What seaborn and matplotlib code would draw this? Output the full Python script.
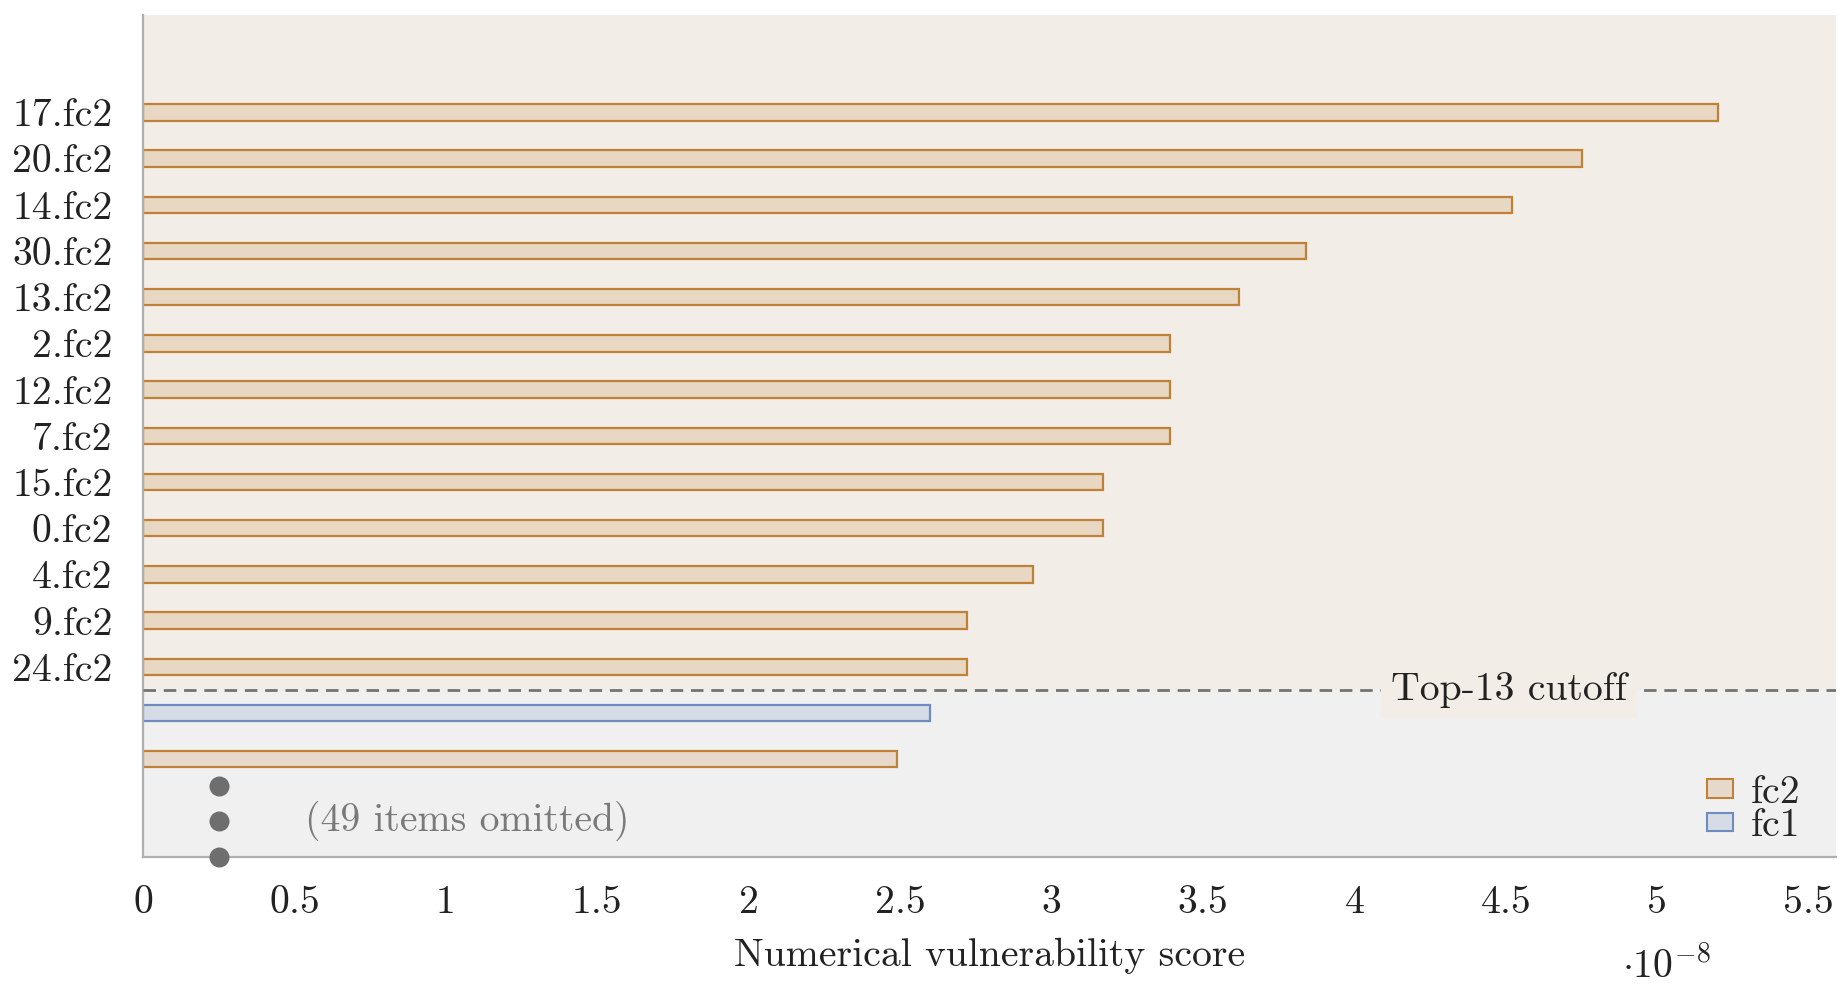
import matplotlib
matplotlib.use("Agg")
import matplotlib.pyplot as plt
from matplotlib.patches import Rectangle
from matplotlib.ticker import FuncFormatter
import matplotlib.colors as mcolors
import pandas as pd
import seaborn as sns

# data (score units: 1e-8)
ids = ['17.fc2', '20.fc2', '14.fc2', '30.fc2', '13.fc2', '2.fc2', '12.fc2',
       '7.fc2', '15.fc2', '0.fc2', '4.fc2', '9.fc2', '24.fc2', 'below_a', 'below_b']
tick_labels = ['17.fc2', '20.fc2', '14.fc2', '30.fc2', '13.fc2', '2.fc2', '12.fc2',
               '7.fc2', '15.fc2', '0.fc2', '4.fc2', '9.fc2', '24.fc2', '', '']
groups = ['fc2'] * 13 + ['fc1', 'fc2']
scores = [5.20, 4.75, 4.52, 3.84, 3.62, 3.39, 3.39, 3.39, 3.17, 3.17, 2.94,
          2.72, 2.72, 2.60, 2.49]
top_k = 13
omitted = 49
xticks = [0, 0.5, 1, 1.5, 2, 2.5, 3, 3.5, 4, 4.5, 5, 5.5]

df = pd.DataFrame({'id': ids, 'group': groups, 'score': [s * 1e-8 for s in scores]})

edge = {'fc2': '#BF8038', 'fc1': '#6E8CBF'}
fs = 14.3

sns.set_style("white")
plt.rcParams['font.family'] = 'serif'
plt.rcParams['font.serif'] = ['cmr10']
plt.rcParams['mathtext.fontset'] = 'cm'
plt.rcParams['axes.unicode_minus'] = False
plt.rcParams['axes.formatter.use_mathtext'] = True

fig = plt.figure(figsize=(9.24, 4.96), dpi=200)
ax = fig.add_axes([0.0774, 0.1363, 0.9161, 0.8483])
ax.set_facecolor('#F0F0F0')

for g in ['fc2', 'fc1']:
    sub = df[df['group'] == g]
    sns.barplot(data=sub, x='score', y='id', order=ids, orient='h', width=0.355,
                color=edge[g], edgecolor=edge[g], linewidth=0.8, ax=ax, zorder=2)
    for p in ax.patches:
        if mcolors.to_hex(p.get_edgecolor()).lower() == edge[g].lower() and p.get_alpha() is None:
            p.set_facecolor(mcolors.to_rgba(edge[g], 0.2))
            p.set_edgecolor(edge[g])

ax.set_ylim(16.11, -2.10)
ax.set_xlim(0, 5.59e-8)
ax.axhspan(-2.10, top_k - 0.5, color='#F2EDE6', zorder=0, lw=0)

ax.axhline(top_k - 0.5, color='#737373', lw=1.0, ls=(0, (4.5, 2.8)), zorder=3)
ax.text(4.51e-8, top_k - 0.5, 'Top-13 cutoff', ha='center', va='center', fontsize=fs,
        color='#222222', zorder=4,
        bbox=dict(boxstyle='square,pad=0.25', fc='#F2EDE6', ec='none'))

# omitted marker
ax.plot([0.25e-8] * 3, [14.57, 15.33, 16.11], 'o', color='#6E6E6E', ms=6.2,
        clip_on=False, zorder=5)
ax.text(1.07e-8, 15.33, f'({omitted} items omitted)', ha='center', va='center',
        fontsize=fs, color='#7A7A7A')

ax.set_yticks(range(len(ids)))
ax.set_yticklabels(tick_labels)
ax.set_xticks([t * 1e-8 for t in xticks])
ax.xaxis.set_major_formatter(FuncFormatter(lambda v, pos: f'{v / 1e-8:g}'))
ax.tick_params(axis='y', length=0, pad=11, labelsize=fs, labelcolor='#222222')
ax.tick_params(axis='x', length=5.8, width=0.6, color='#A8A8A8', pad=4.5,
               labelsize=fs, labelcolor='#222222', direction='out')
ax.set_xlabel('Numerical vulnerability score', fontsize=fs, color='#222222', labelpad=6)
ax.set_ylabel('')
ax.text(0.90, -0.13, r'$\cdot 10^{-8}$', transform=ax.transAxes, ha='center',
        va='center', fontsize=fs, color='#222222')

for s in ['top', 'right']:
    ax.spines[s].set_visible(False)
for s in ['left', 'bottom']:
    ax.spines[s].set_color('#B0B0B0')
    ax.spines[s].set_linewidth(0.8)

handles = [Rectangle((0, 0), 1, 1, fc=mcolors.to_rgba(edge[g], 0.2), ec=edge[g], lw=0.75)
           for g in ['fc2', 'fc1']]
ax.legend(handles, ['fc2', 'fc1'], loc='lower right', bbox_to_anchor=(0.979, 0.015),
          frameon=False, fontsize=fs, handlelength=0.65, handleheight=0.35,
          labelspacing=-0.06, handletextpad=0.45, borderpad=0, borderaxespad=0)

fig.savefig('out.png', dpi=200)
